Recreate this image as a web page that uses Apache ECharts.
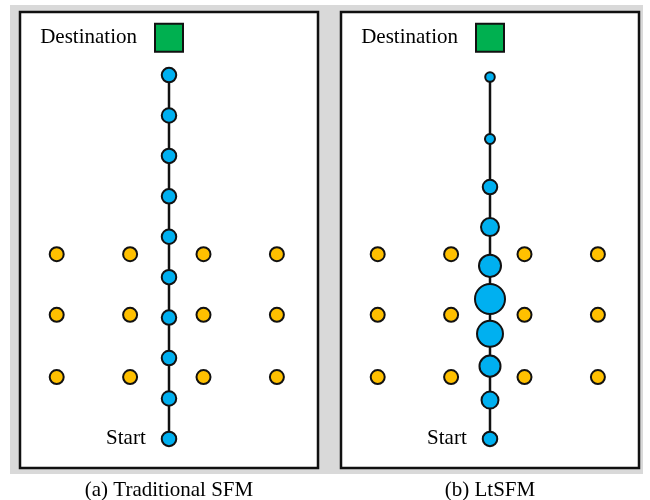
<!DOCTYPE html>
<html>
<head>
<meta charset="utf-8">
<script src="https://cdn.jsdelivr.net/npm/echarts@6/dist/echarts.min.js"></script>
<style>
html,body{margin:0;padding:0;background:#fff;}
#chart{width:650px;height:500px;}
</style>
</head>
<body>
<div id="chart"></div>
<script>
// ---- data ----
const panelTitles = ['(a) Traditional SFM', '(b) LtSFM'];
const pathX = 2.53;                       // lateral position of the walking path
const obstacleCols = [1, 2, 3, 4];        // obstacle columns
const obstacleRows = [1.53, 3.07, 4.57];  // obstacle rows (distance from start)
const destinationY = 9.92;
const tradNodeY = [0, 1, 2, 3, 4, 5, 6, 7, 8, 9];
const tradNodeWeight = [1, 1, 1, 1, 1, 1, 1, 1, 1, 1];
const ltNodeY = [0, 0.96, 1.80, 2.60, 3.46, 4.28, 5.24, 6.23, 7.42, 8.95];
const ltNodeWeight = [1.0, 1.17, 1.45, 1.79, 2.07, 1.52, 1.24, 1.0, 0.69, 0.66];
const startLabel = 'Start';
const destLabel = 'Destination';

// ---- styling ----
const FONT = "'Liberation Serif', 'Times New Roman', serif";
const BLUE = '#00b0f0', ORANGE = '#ffc000', GREEN = '#00b050';
const BASE = 14.5;

const obstacles = [];
obstacleRows.forEach(r => obstacleCols.forEach(c => obstacles.push([c, r])));

function panelSeries(idx, ys, weights) {
  const pts = ys.map((y, i) => [pathX, y, weights[i]]);
  return [
    {
      type: 'line', xAxisIndex: idx, yAxisIndex: idx, data: pts.map(p => [p[0], p[1]]),
      symbol: 'none', lineStyle: {color: '#111', width: 2.5}, z: 2, silent: true, animation: false
    },
    {
      type: 'scatter', xAxisIndex: idx, yAxisIndex: idx, data: obstacles,
      symbolSize: 14, itemStyle: {color: ORANGE, borderColor: '#111', borderWidth: 2, opacity: 1},
      z: 3, animation: false
    },
    {
      type: 'scatter', xAxisIndex: idx, yAxisIndex: idx,
      data: pts.map((p, i) => ({
        value: p,
        label: i === 0 ? {show: true, position: 'left', distance: 15, formatter: startLabel,
          fontFamily: FONT, fontSize: 21, color: '#000'} : {show: false}
      })),
      symbolSize: v => BASE * v[2],
      itemStyle: {color: BLUE, borderColor: '#111', borderWidth: 2, opacity: 1},
      z: 4, animation: false
    },
    {
      type: 'scatter', xAxisIndex: idx, yAxisIndex: idx, data: [[pathX, destinationY]],
      symbol: 'rect', symbolSize: 28,
      itemStyle: {color: GREEN, borderColor: '#111', borderWidth: 2, opacity: 1},
      label: {show: true, position: 'left', distance: 17, formatter: destLabel,
        fontFamily: FONT, fontSize: 21, color: '#000'},
      z: 4, animation: false
    }
  ];
}

const grids = [
  {left: 20, top: 12, width: 298, height: 456},
  {left: 341, top: 12, width: 298, height: 456}
].map(g => Object.assign(g, {show: true, backgroundColor: '#fff', borderColor: '#111', borderWidth: 2.5, z: 1}));

const axisCommon = {show: false, splitLine: {show: false}, axisLine: {show: false}, axisTick: {show: false}, axisLabel: {show: false}};

const option = {
  backgroundColor: '#fff',
  animation: false,
  grid: grids,
  xAxis: [0, 1].map(i => Object.assign({type: 'value', gridIndex: i, min: 0.5, max: 4.56}, axisCommon)),
  yAxis: [0, 1].map(i => Object.assign({type: 'value', gridIndex: i, min: -0.72, max: 10.56}, axisCommon)),
  graphic: [
    {type: 'rect', z: -10, shape: {x: 10, y: 5, width: 633, height: 469}, style: {fill: '#d9d9d9'}, silent: true},
    {type: 'text', x: 169, y: 490, style: {text: panelTitles[0], font: '21px ' + FONT, fill: '#000', textAlign: 'center', textVerticalAlign: 'middle'}},
    {type: 'text', x: 490, y: 490, style: {text: panelTitles[1], font: '21px ' + FONT, fill: '#000', textAlign: 'center', textVerticalAlign: 'middle'}}
  ],
  series: [].concat(panelSeries(0, tradNodeY, tradNodeWeight), panelSeries(1, ltNodeY, ltNodeWeight))
};

const chart = echarts.init(document.getElementById('chart'), null, {renderer: 'canvas'});
chart.setOption(option);
</script>
</body>
</html>
